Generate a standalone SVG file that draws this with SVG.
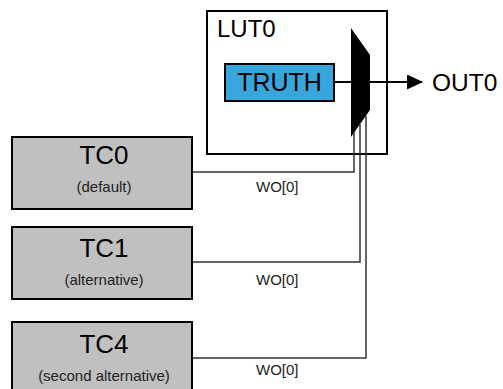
<svg xmlns="http://www.w3.org/2000/svg" width="503" height="389" viewBox="0 0 503 389">
<style>
text{font-family:"Liberation Sans",Arial,sans-serif;fill:#000}
.tc{fill:#c0c0c0;stroke:#000;stroke-width:2}
.title{font-size:26px;text-anchor:middle}
.sub{font-size:15px;text-anchor:middle;fill:#222}
.wo{font-size:15px;fill:#222}
.wire{fill:none;stroke:#333;stroke-width:1.5}
</style>
<defs>
<marker id="arr" markerWidth="16" markerHeight="15" refX="15" refY="7.5" orient="auto" markerUnits="userSpaceOnUse">
<polygon points="0,0 16,7.5 0,15" fill="#000"/>
</marker>
</defs>
<g id="lut0">
<rect x="207" y="11" width="180" height="143" fill="#fff" stroke="#000" stroke-width="2"/>
<text x="217" y="37" font-size="24">LUT0</text>
</g>
<g id="truth">
<rect x="225" y="64" width="109" height="37" fill="#39a5dd" stroke="#000" stroke-width="2"/>
<text x="279.5" y="91" font-size="25" text-anchor="middle">TRUTH</text>
</g>
<g id="mux">
<polygon points="351,28 370,55 370,110 351,137" fill="#000"/>
</g>
<g id="out0">
<text x="432" y="91" font-size="24.5">OUT0</text>
</g>
<g id="tc0">
<rect class="tc" x="12" y="137" width="180" height="72"/>
<text class="title" x="104" y="164">TC0</text>
<text class="sub" x="104" y="192">(default)</text>
</g>
<g id="tc1">
<rect class="tc" x="12" y="227" width="180" height="72"/>
<text class="title" x="104" y="257">TC1</text>
<text class="sub" x="104" y="285">(alternative)</text>
</g>
<g id="tc4">
<rect class="tc" x="12" y="322" width="180" height="74"/>
<text class="title" x="104" y="353">TC4</text>
<text class="sub" x="104" y="381">(second alternative)</text>
</g>
<g id="connectors">
<line x1="334" y1="82" x2="351" y2="82" stroke="#000" stroke-width="2"/>
<line x1="370" y1="82" x2="422" y2="82" stroke="#000" stroke-width="2" marker-end="url(#arr)"/>
<polyline class="wire" points="193,172 354,172 354,132"/>
<polyline class="wire" points="193,262 360,262 360,124"/>
<polyline class="wire" points="193,358 366,358 366,116"/>
<text class="wo" x="256" y="192">WO[0]</text>
<text class="wo" x="256" y="285">WO[0]</text>
<text class="wo" x="256" y="375">WO[0]</text>
</g>
</svg>
